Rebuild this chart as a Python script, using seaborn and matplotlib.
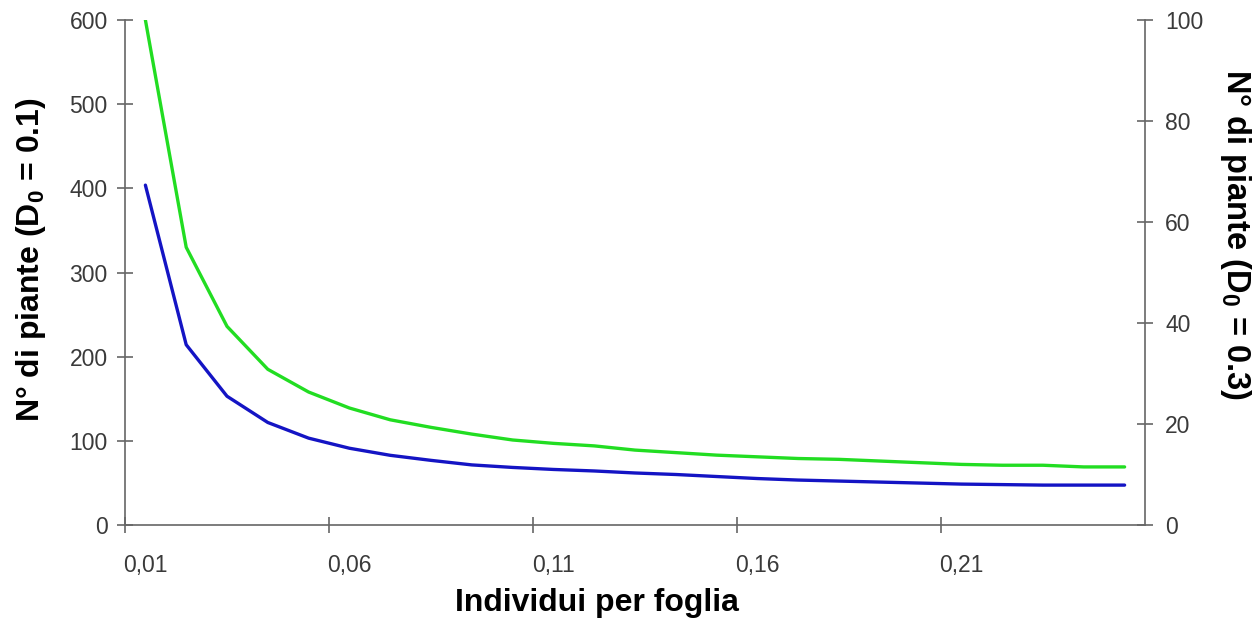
import matplotlib

matplotlib.use("Agg")
import matplotlib.pyplot as plt
import numpy as np
import pandas as pd
import seaborn as sns

# categorie sull'asse x (individui per foglia)
individui = [
    "0,01", "0,02", "0,03", "0,04", "0,05", "0,06", "0,07", "0,08", "0,09",
    "0,10", "0,11", "0,12", "0,13", "0,14", "0,15", "0,16", "0,17", "0,18",
    "0,19", "0,20", "0,21", "0,22", "0,23", "0,24", "0,25",
]
# N° di piante, D0 = 0.1 (asse sinistro)
piante_d01 = [
    600, 330, 236, 185, 158, 139, 125, 116, 108, 101, 97, 94, 89,
    86, 83, 81, 79, 78, 76, 74, 72, 71, 71, 69, 69,
]
# N° di piante, D0 = 0.3 (asse destro)
piante_d03 = [
    67.3, 35.7, 25.5, 20.3, 17.2, 15.2, 13.8, 12.8, 11.9, 11.4, 11.0, 10.7, 10.3,
    10.0, 9.6, 9.2, 8.9, 8.7, 8.5, 8.3, 8.1, 8.0, 7.9, 7.9, 7.9,
]

sns.set_theme(style="white")
plt.rcParams["font.family"] = ["Liberation Sans", "DejaVu Sans"]
plt.rcParams["mathtext.fontset"] = "custom"
plt.rcParams["mathtext.rm"] = "Liberation Sans:bold"
plt.rcParams["mathtext.it"] = "Liberation Sans:bold"
plt.rcParams["mathtext.default"] = "rm"

df = pd.DataFrame({
    "pos": np.arange(len(individui)),
    "d01": piante_d01,
    "d03": piante_d03,
})

AXIS_COL = "#666666"
TICK_COL = "#3a3a3a"

fig = plt.figure(figsize=(12.53, 6.24), dpi=100)
ax = fig.add_axes([125 / 1253, 1 - 525 / 624, 1020 / 1253, 505 / 624])
ax2 = ax.twinx()

sns.lineplot(data=df, x="pos", y="d01", ax=ax, color="#22dd22", lw=2.4)
sns.lineplot(data=df, x="pos", y="d03", ax=ax2, color="#1414c4", lw=2.4)

n = len(individui)
ax.set_xlim(-0.5, n - 0.5)
ax.set_ylim(0, 600)
ax2.set_ylim(0, 100)
ax.set_yticks(range(0, 601, 100))
ax2.set_yticks(range(0, 101, 20))

ax.set_xticks(df["pos"][::5])
ax.set_xticklabels(individui[::5])
ax.set_xticks(np.arange(-0.5, n - 1, 5), minor=True)

ax.tick_params(axis="x", which="major", length=0, pad=21, labelsize=16.5, labelcolor=TICK_COL)
ax.tick_params(axis="x", which="minor", direction="inout", length=11, width=1.2,
               color=AXIS_COL, bottom=True)
ax.tick_params(axis="y", direction="inout", length=11, width=1.2, color=AXIS_COL,
               pad=7, labelsize=16.5, labelcolor=TICK_COL, left=True)
ax2.tick_params(axis="y", direction="inout", length=11, width=1.2, color=AXIS_COL,
                pad=9, labelsize=16.5, labelcolor=TICK_COL, right=True)

for a in (ax, ax2):
    a.set_xlabel("")
    a.set_ylabel("")
    a.grid(False)
    a.spines["top"].set_visible(False)
    for s in ("left", "bottom", "right"):
        a.spines[s].set_color(AXIS_COL)
        a.spines[s].set_linewidth(1.2)
ax.spines["right"].set_visible(False)
ax2.spines["left"].set_visible(False)
ax2.spines["bottom"].set_visible(False)

ax.text(0.463, -0.154, "Individui per foglia", transform=ax.transAxes,
        ha="center", va="center", fontsize=23, fontweight="bold", color="black")
ax.text(-0.092, 0.525, "N° di piante (D$_0$ = 0.1)", transform=ax.transAxes,
        ha="center", va="center", rotation=90, fontsize=23, fontweight="bold", color="black")
ax.text(1.089, 0.576, "N° di piante (D$_0$ = 0.3)", transform=ax.transAxes,
        ha="center", va="center", rotation=270, fontsize=23.5, fontweight="bold", color="black")

fig.savefig("out.png", dpi=100, facecolor="white")
